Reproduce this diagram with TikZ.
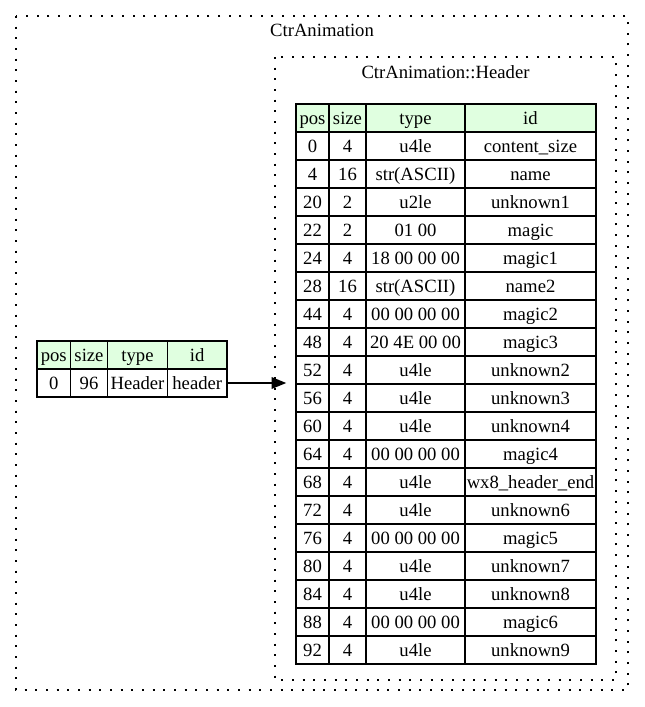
\documentclass[tikz,border=0pt]{standalone}
\usepackage{fontspec}
\setmainfont{Liberation Serif}
\usetikzlibrary{arrows.meta}
\definecolor{hdrgreen}{HTML}{E0FFE0}
\begin{document}
\begin{tikzpicture}[x=0.75pt,y=-0.75pt,
  txt/.style={font=\fontsize{14}{16}\selectfont, inner sep=0pt},
  cell/.style={txt, draw, line width=1pt, text height=9.5pt, text depth=0.5pt, minimum height=21pt},
  hcell/.style={cell, fill=hdrgreen},
  cluster/.style={draw, line width=1pt, dash pattern=on 1.5pt off 6.5pt},
  link/.style={line width=1.5pt, -{Triangle[length=11pt,width=8.5pt]}, shorten >=6.75pt}]
\useasboundingbox (0,0) rectangle (644,707);
% clusters
\draw[cluster] (16,16) rectangle (628,690);
\node[txt, anchor=base] (t1) at (322,36.7) {CtrAnimation};
\draw[cluster] (275,57) rectangle (616,680);
\node[txt, anchor=base] (t2) at (445.5,78.7) {CtrAnimation::Header};
% left table
\node[hcell, minimum width=25.125pt] (lh-pos) at (53.75,355) {pos};
\node[hcell, minimum width=27.75pt] (lh-size) at (89,355) {size};
\node[hcell, minimum width=45pt] (lh-type) at (137.5,355) {type};
\node[hcell, minimum width=44.625pt] (lh-id) at (197.25,355) {id};
\node[cell, minimum width=25.125pt] (l1-pos) at (53.75,383) {0};
\node[cell, minimum width=27.75pt] (l1-size) at (89,383) {96};
\node[cell, minimum width=45pt] (l1-type) at (137.5,383) {Header};
\node[cell, minimum width=44.625pt] (l1-id) at (197.25,383) {header};
% inner table header
\node[hcell, minimum width=24.75pt] (h-pos) at (312.5,118) {pos};
\node[hcell, minimum width=27.75pt] (h-size) at (347.5,118) {size};
\node[hcell, minimum width=74.25pt] (h-type) at (415.5,118) {type};
\node[hcell, minimum width=98.25pt] (h-id) at (530.5,118) {id};
\foreach \p/\s/\t/\i [count=\k] in {
  0/4/u4le/content\_size,
  4/16/str(ASCII)/name,
  20/2/u2le/unknown1,
  22/2/01 00/magic,
  24/4/18 00 00 00/magic1,
  28/16/str(ASCII)/name2,
  44/4/00 00 00 00/magic2,
  48/4/20 4E 00 00/magic3,
  52/4/u4le/unknown2,
  56/4/u4le/unknown3,
  60/4/u4le/unknown4,
  64/4/00 00 00 00/magic4,
  68/4/u4le/wx8\_header\_end,
  72/4/u4le/unknown6,
  76/4/00 00 00 00/magic5,
  80/4/u4le/unknown7,
  84/4/u4le/unknown8,
  88/4/00 00 00 00/magic6,
  92/4/u4le/unknown9}{
  \node[cell, minimum width=24.75pt] (r\k-pos) at (312.5,{118+28*\k}) {\p};
  \node[cell, minimum width=27.75pt] (r\k-size) at (347.5,{118+28*\k}) {\s};
  \node[cell, minimum width=74.25pt] (r\k-type) at (415.5,{118+28*\k}) {\t};
  \node[cell, minimum width=98.25pt] (r\k-id) at (530.5,{118+28*\k}) {\i};
}
\coordinate (tab2) at (r9-pos.west |- l1-id.east);
\draw[link] (l1-id.east) -- (tab2);
\end{tikzpicture}
\end{document}
